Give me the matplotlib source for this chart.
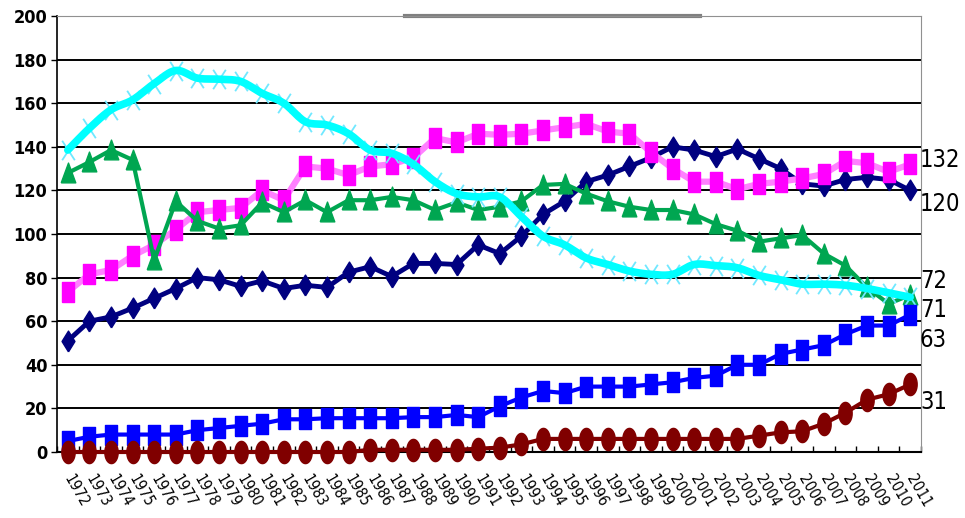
import numpy as np
import matplotlib
matplotlib.use('Agg')
import matplotlib.pyplot as plt
from matplotlib.path import Path

years = list(range(1972, 2012))

navy_vals = [51, 60, 62, 66, 70.5, 75, 80, 79, 76, 78.5,
             75, 76.5, 75.5, 82.5, 85, 80.5, 86.5, 86.5, 86, 95,
             91, 99, 109, 115, 124, 127, 131, 135, 140, 138.5,
             135.5, 139, 134.5, 130, 123, 122, 125, 126, 125, 120]
pink_vals = [73.5, 81.5, 83.5, 90, 95, 102, 110, 111, 112, 120,
             115.5, 131, 130, 127, 131, 132, 135, 144, 142, 146,
             145.5, 146, 147.5, 149, 150.5, 147, 146, 137.5, 130, 124,
             124, 120.5, 123, 124, 125.5, 127.5, 133.5, 132.5, 128.5, 132]
green_vals = [128, 133, 138.5, 134, 88, 115, 106, 102.5, 104, 114.5,
              110, 115.5, 110, 115.5, 115.5, 117, 115.5, 111, 114.5, 111,
              112.5, 115, 122.5, 123, 118.5, 115, 112.5, 111, 111, 109,
              104.5, 101.5, 96.5, 98, 99.5, 91, 85.5, 75.5, 68, 72]
cyan_vals = [138.5, 148.5, 157, 161.5, 169, 175, 171.5, 171, 170, 164.5,
             160, 151.5, 150, 146, 138.5, 137, 132, 124, 118.5, 117,
             117, 108, 99, 95, 89, 86, 83, 81.5, 81.5, 86,
             85.5, 84.5, 81, 79, 77, 77, 76.5, 75, 73, 71]
blue_vals = [5, 7, 8, 8, 8, 8, 10, 11, 12, 13,
             15, 15, 15.5, 15.5, 15.5, 15.5, 16, 16, 17, 16,
             21, 25, 28, 27, 30, 30, 30, 31, 32, 34,
             35, 40, 40, 45, 47, 49, 54, 58, 58, 63]
brown_vals = [0, 0, 0, 0, 0, 0, 0, 0, 0, 0,
              0, 0, 0, 0, 1, 1, 1, 1, 1, 1.5,
              2, 3.5, 6, 6, 6, 6, 6, 6, 6, 6,
              6, 6, 7.5, 9, 9.5, 13, 18, 24, 26.5, 31]

# end-of-line labels and their vertical nudge in pixels
end_labels = [(pink_vals, 132, 4), (navy_vals, 120, -14), (green_vals, 72, 14),
              (cyan_vals, 71, -13), (blue_vals, 63, -25), (brown_vals, 31, -18)]

FONT = dict(family='DejaVu Sans', stretch='condensed')

# narrow marker shapes
sq = [(-0.62, -1), (0.62, -1), (0.62, 1), (-0.62, 1), (-0.62, -1)]
dia = [(0, -1), (0.62, 0), (0, 1), (-0.62, 0), (0, -1)]
tri = [(-0.7, -0.9), (0.7, -0.9), (0, 1), (-0.7, -0.9)]
t = np.linspace(0, 2 * np.pi, 40)
ell = list(zip(0.6 * np.cos(t), np.sin(t)))
xmark = Path([(-0.65, -1), (0.65, 1), (-0.65, 1), (0.65, -1)],
             [Path.MOVETO, Path.LINETO, Path.MOVETO, Path.LINETO])


def smooth(x, y, n=12):
    # Catmull-Rom curve through the points, like a smoothed line
    x = np.asarray(x, float)
    y = np.asarray(y, float)
    px = np.concatenate([[2 * x[0] - x[1]], x, [2 * x[-1] - x[-2]]])
    py = np.concatenate([[2 * y[0] - y[1]], y, [2 * y[-1] - y[-2]]])
    xs, ys = [], []
    s = np.linspace(0, 1, n, endpoint=False)
    for i in range(1, len(px) - 2):
        for arr, out in ((px, xs), (py, ys)):
            p0, p1, p2, p3 = arr[i - 1], arr[i], arr[i + 1], arr[i + 2]
            out.extend(0.5 * (2 * p1 + (-p0 + p2) * s
                              + (2 * p0 - 5 * p1 + 4 * p2 - p3) * s ** 2
                              + (-p0 + 3 * p1 - 3 * p2 + p3) * s ** 3))
    xs.append(x[-1])
    ys.append(y[-1])
    return xs, ys


fig = plt.figure(figsize=(9.65, 5.18), dpi=100)
ax = fig.add_axes([57 / 965, 66 / 518, 864 / 965, 436 / 518])
x = np.arange(len(years))

ax.plot(x, navy_vals, color='#000080', lw=3.5, marker=dia, ms=15,
        mec='#000080', mfc='#000080', zorder=3, clip_on=False)
ax.plot(x, pink_vals, color='#FF80FF', lw=4.5, marker=sq, ms=15,
        mec='#FF00FF', mfc='#FF00FF', zorder=4, clip_on=False)
ax.plot(x, green_vals, color='#00A651', lw=3, marker=tri, ms=15,
        mec='#00A651', mfc='#00A651', zorder=5, clip_on=False)
ax.plot(x, cyan_vals, ls='none', marker=xmark, ms=14, mec='#70E8FF',
        mew=1.3, zorder=6, clip_on=False)
cx, cy = smooth(x, cyan_vals)
ax.plot(cx, cy, color='#00FFFF', lw=5.5, zorder=6.5, solid_capstyle='round',
        clip_on=False)
ax.plot(x, blue_vals, color='#0000FF', lw=3, marker=sq, ms=14,
        mec='#0000FF', mfc='#0000FF', zorder=7, clip_on=False)
ax.plot(x, brown_vals, color='#800000', lw=3, marker=ell, ms=16,
        mec='#800000', mfc='#800000', zorder=8, clip_on=False)

ax.set_xlim(-0.5, len(years) - 0.5)
ax.set_ylim(0, 200)
ax.set_yticks(range(0, 201, 20))
ax.yaxis.grid(True, color='black', lw=1.4)
ax.set_axisbelow(True)

ax.set_xticks(x)
ax.set_xticks(np.arange(len(years) + 1) - 0.5, minor=True)
ax.set_xticklabels([str(yr) for yr in years], rotation=-60, ha='left',
                   va='center', rotation_mode='anchor', fontsize=11, **FONT)
ax.tick_params(axis='x', which='major', length=0, pad=17)
ax.tick_params(axis='x', which='minor', direction='in', length=4, width=1)
ax.tick_params(axis='y', direction='out', length=4, width=1, pad=3)
for lab in ax.get_yticklabels():
    lab.set_fontsize(13)
    lab.set_fontweight('bold')
    lab.set_family(FONT['family'])
    lab.set_stretch(FONT['stretch'])

ax.spines['left'].set_color('black')
ax.spines['left'].set_linewidth(1.2)
ax.spines['bottom'].set_color('black')
ax.spines['bottom'].set_linewidth(1.5)
ax.spines['right'].set_color('#909090')
ax.spines['top'].set_color('#909090')
ax.plot([0.403, 0.744], [1.0, 1.0], transform=ax.transAxes, color='#808080',
        lw=3, clip_on=False, zorder=2)

for vals, val, dy in end_labels:
    ax.annotate(str(val), xy=(len(years) - 1, vals[-1]),
                xytext=(7, dy * 0.72), textcoords='offset points',
                fontsize=17, ha='left', va='center', annotation_clip=False,
                **FONT)

fig.savefig('out.png', dpi=100)
